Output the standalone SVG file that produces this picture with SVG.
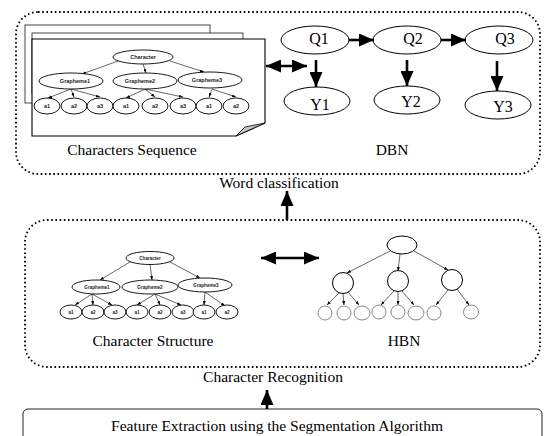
<svg xmlns="http://www.w3.org/2000/svg" width="544" height="436" viewBox="0 0 544 436">
<style>
.dot{fill:none;stroke:#000;stroke-width:1.8;stroke-dasharray:1.6 2.6}
.lbl{font-family:"Liberation Serif","Times New Roman",serif;font-size:15.5px;fill:#000;text-anchor:middle}
.q{font-family:"Liberation Serif","Times New Roman",serif;font-size:16px;fill:#000;text-anchor:middle}
.n{fill:#fff;stroke:#000;stroke-width:1}
.sn{fill:#fff;stroke:#000;stroke-width:0.9}
.gn{fill:#fff;stroke:#888;stroke-width:1}
.t{font-family:"Liberation Sans",Arial,sans-serif;font-weight:bold;font-size:5.5px;fill:#222;text-anchor:middle}
.ts{font-family:"Liberation Sans",Arial,sans-serif;font-weight:bold;font-size:4.6px;fill:#222;text-anchor:middle}
.e{fill:none;stroke:#000;stroke-width:0.6;marker-end:url(#sa)}
.big{fill:none;stroke:#000;stroke-width:2.6;marker-end:url(#ba)}
.dbl{fill:none;stroke:#000;stroke-width:2.6;marker-end:url(#ba);marker-start:url(#ba)}
.page{fill:#fff;stroke:#444;stroke-width:1}
</style>
<defs>
<marker id="ba" viewBox="0 0 15 13" refX="15" refY="6.5" markerWidth="15" markerHeight="13" markerUnits="userSpaceOnUse" orient="auto-start-reverse"><path d="M0,0 L15,6.5 L0,13 z" fill="#000"/></marker>
<marker id="sa" viewBox="0 0 4 3" refX="4" refY="1.5" markerWidth="4" markerHeight="3" markerUnits="userSpaceOnUse" orient="auto"><path d="M0,0 L4,1.5 L0,3 z" fill="#000"/></marker>
</defs>

<g id="word-box">
<rect class="dot" x="16" y="12" width="524" height="162" rx="22"/>
<text class="lbl" x="279" y="188">Word classification</text>
</g>

<g id="characters-sequence">
<rect class="page" x="25" y="25" width="185" height="78"/>
<rect class="page" x="32" y="33" width="211" height="60"/>
<path d="M32,39 H265 V123 L236,136 H32 Z" fill="#fff" stroke="#000" stroke-width="1.1"/>
<path d="M236,136 L245,127 L265,123 Z" fill="#c8c8c8" stroke="#000" stroke-width="0.8"/>
<g>
<path class="e" d="M118,61 L82,74"/>
<path class="e" d="M143,64 L146,73"/>
<path class="e" d="M170,61 L204,72"/>
<path class="e" d="M71,89 L48,98"/>
<path class="e" d="M71,89 L74,97"/>
<path class="e" d="M71,89 L100,97"/>
<path class="e" d="M145,89 L126,98"/>
<path class="e" d="M145,89 L155,97"/>
<path class="e" d="M145,89 L183,97"/>
<path class="e" d="M212,89 L209,97"/>
<path class="e" d="M212,89 L236,97"/>
</g>
<ellipse class="sn" cx="143" cy="57" rx="30" ry="7"/>
<text class="t" x="143" y="59">Character</text>
<ellipse class="sn" cx="71" cy="81" rx="32" ry="8"/>
<text class="t" x="75" y="83">Grapheme1</text>
<ellipse class="sn" cx="145" cy="81" rx="32" ry="8"/>
<text class="t" x="140" y="83">Grapheme2</text>
<ellipse class="sn" cx="210" cy="80" rx="32" ry="8"/>
<text class="t" x="207" y="82">Grapheme3</text>
<ellipse class="sn" cx="47" cy="106" rx="13" ry="8"/><text class="t" x="47" y="108">a1</text>
<ellipse class="sn" cx="74" cy="106" rx="13" ry="8"/><text class="t" x="74" y="108">a2</text>
<ellipse class="sn" cx="100" cy="106" rx="13" ry="8"/><text class="t" x="100" y="108">a3</text>
<ellipse class="sn" cx="126" cy="106" rx="13" ry="8"/><text class="t" x="126" y="108">a1</text>
<ellipse class="sn" cx="155" cy="106" rx="13" ry="8"/><text class="t" x="155" y="108">a2</text>
<ellipse class="sn" cx="183" cy="106" rx="13" ry="8"/><text class="t" x="183" y="108">a3</text>
<ellipse class="sn" cx="209" cy="106" rx="13" ry="8"/><text class="t" x="209" y="108">a1</text>
<ellipse class="sn" cx="236" cy="106" rx="13" ry="8"/><text class="t" x="236" y="108">a2</text>
<text class="lbl" x="132" y="155">Characters Sequence</text>
</g>

<g id="dbn">
<ellipse id="Q1" class="n" cx="315" cy="40" rx="34" ry="14"/>
<text class="q" x="319" y="44">Q1</text>
<ellipse id="Q2" class="n" cx="407" cy="40" rx="34" ry="14"/>
<text class="q" x="413" y="44">Q2</text>
<ellipse id="Q3" class="n" cx="499" cy="40" rx="34" ry="14"/>
<text class="q" x="505" y="44">Q3</text>
<ellipse id="Y1" class="n" cx="317" cy="101" rx="33" ry="14"/>
<text class="q" x="320" y="110">Y1</text>
<ellipse id="Y2" class="n" cx="407" cy="100" rx="33" ry="14"/>
<text class="q" x="411" y="107">Y2</text>
<ellipse id="Y3" class="n" cx="498" cy="105" rx="33" ry="14"/>
<text class="q" x="503" y="112">Y3</text>
<text class="lbl" x="392" y="155">DBN</text>
</g>

<g id="recognition-box">
<rect class="dot" x="25" y="220" width="515" height="147" rx="22"/>
<text class="lbl" x="273" y="382">Character Recognition</text>
</g>

<g id="character-structure">
<path class="e" d="M130,262 L100,280"/>
<path class="e" d="M150,264 L152,280"/>
<path class="e" d="M170,262 L200,278"/>
<path class="e" d="M92,294 L75,305"/>
<path class="e" d="M92,294 L93,305"/>
<path class="e" d="M92,294 L112,305"/>
<path class="e" d="M155,294 L137,305"/>
<path class="e" d="M155,294 L160,305"/>
<path class="e" d="M155,294 L181,305"/>
<path class="e" d="M205,292 L204,305"/>
<path class="e" d="M205,292 L225,306"/>
<ellipse class="sn" cx="150" cy="258" rx="24" ry="6.5"/>
<text class="ts" x="150" y="260">Character</text>
<ellipse class="sn" cx="96" cy="287" rx="24" ry="7"/>
<text class="ts" x="97" y="289">Grapheme1</text>
<ellipse class="sn" cx="150" cy="287" rx="28" ry="7"/>
<text class="ts" x="150" y="289">Grapheme2</text>
<ellipse class="sn" cx="205" cy="285" rx="27" ry="7"/>
<text class="ts" x="206" y="287">Grapheme3</text>
<ellipse class="sn" cx="71" cy="312" rx="11" ry="7"/><text class="ts" x="71" y="314">a1</text>
<ellipse class="sn" cx="93" cy="312" rx="11" ry="7"/><text class="ts" x="93" y="314">a2</text>
<ellipse class="sn" cx="115" cy="312" rx="11" ry="7"/><text class="ts" x="115" y="314">a3</text>
<ellipse class="sn" cx="137" cy="312" rx="11" ry="7"/><text class="ts" x="137" y="314">a1</text>
<ellipse class="sn" cx="160" cy="312" rx="11" ry="7"/><text class="ts" x="160" y="314">a2</text>
<ellipse class="sn" cx="183" cy="312" rx="11" ry="7"/><text class="ts" x="183" y="314">a3</text>
<ellipse class="sn" cx="204" cy="312" rx="11" ry="7"/><text class="ts" x="204" y="314">a1</text>
<ellipse class="sn" cx="227" cy="312" rx="11" ry="7"/><text class="ts" x="227" y="314">a2</text>
<text class="lbl" x="153" y="346">Character Structure</text>
</g>

<g id="hbn">
<path class="e" d="M390,251 L347,273"/>
<path class="e" d="M400,254 L398,271"/>
<path class="e" d="M414,251 L448,270"/>
<path class="e" d="M339,293 L327,305"/>
<path class="e" d="M343,293.5 L344,305"/>
<path class="e" d="M348,292 L359,305"/>
<path class="e" d="M394,291 L381,305"/>
<path class="e" d="M398,291.5 L398,305"/>
<path class="e" d="M402,291 L414,305"/>
<path class="e" d="M448,290 L436,305"/>
<path class="e" d="M457,289 L469,305"/>
<ellipse class="n" cx="402" cy="245" rx="15" ry="9"/>
<ellipse class="n" cx="343" cy="283" rx="10.5" ry="10.5"/>
<ellipse class="n" cx="398" cy="281" rx="10.5" ry="10.5"/>
<ellipse class="n" cx="452" cy="280" rx="10.5" ry="10.5"/>
<ellipse class="gn" cx="325" cy="313" rx="7" ry="7"/>
<ellipse class="gn" cx="344" cy="313" rx="7" ry="7"/>
<ellipse class="gn" cx="362" cy="313" rx="8" ry="7"/>
<ellipse class="gn" cx="379" cy="312" rx="7" ry="7"/>
<ellipse class="gn" cx="398" cy="312" rx="7" ry="7"/>
<ellipse class="gn" cx="416" cy="313" rx="8" ry="7"/>
<ellipse class="gn" cx="434" cy="313" rx="7" ry="7"/>
<ellipse class="gn" cx="471" cy="312" rx="7.5" ry="7"/>
<text class="lbl" x="404" y="346">HBN</text>
</g>

<g id="feature-extraction">
<rect x="23" y="409" width="519" height="60" rx="5" fill="#fff" stroke="#222" stroke-width="1"/>
<text class="lbl" x="277" y="431">Feature Extraction using the Segmentation Algorithm</text>
</g>

<g id="connectors">
<path class="big" d="M349,40 L374,40"/>
<path class="big" d="M441,40 L466,40"/>
<path class="big" d="M316,60 L316,87"/>
<path class="big" d="M407,60 L407,86"/>
<path class="big" d="M497,61 L497,91"/>
<path class="dbl" d="M266,66 L307,66"/>
<path class="dbl" d="M261,258 L319,258"/>
<path class="big" d="M287,220 L287,191"/>
<path class="big" d="M267,409 L267,390"/>
</g>
</svg>
